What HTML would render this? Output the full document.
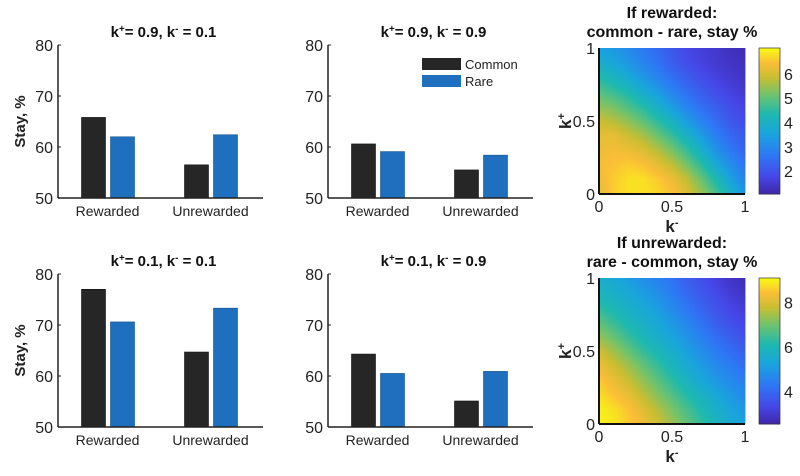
<!DOCTYPE html>
<html><head><meta charset="utf-8">
<style>
body{margin:0;background:#fff;}
svg{display:block;font-family:"Liberation Sans",sans-serif;}
</style></head>
<body>
<svg id="fig" width="800" height="476" viewBox="0 0 800 476"></svg>
<script>
const categories = ["Rewarded", "Unrewarded"];
const seriesNames = ["Common", "Rare"];
const commonTL = [65.8, 56.5];
const rareTL = [62.0, 62.4];
const commonTM = [60.6, 55.5];
const rareTM = [59.1, 58.4];
const commonBL = [77.0, 64.7];
const rareBL = [70.6, 73.3];
const commonBM = [64.3, 55.1];
const rareBM = [60.5, 60.9];
const yTicks = [50, 60, 70, 80];
const hmTicks = [0, 0.5, 1];
const cbTicksTop = [2, 3, 4, 5, 6];
const cbTicksBot = [4, 6, 8];
const cbRangeTop = [1.06, 7.06];
const cbRangeBot = [2.55, 9.1];
// rows: k+ = 0..1 (step 0.1), cols: k- = 0..1
const heatTop = [
[6.2,6.6,6.8,6.8,6.7,6.5,6.1,5.5,4.8,4.0,3.2],
[6.3,6.6,6.8,6.8,6.6,6.3,5.8,5.1,4.3,3.5,2.9],
[6.4,6.5,6.6,6.5,6.2,5.8,5.2,4.5,3.7,3.1,2.6],
[6.3,6.4,6.3,6.1,5.7,5.2,4.6,3.9,3.2,2.7,2.3],
[6.2,6.2,5.9,5.6,5.1,4.6,4.0,3.4,2.8,2.4,2.1],
[5.9,5.7,5.4,5.0,4.5,4.0,3.4,2.9,2.5,2.1,1.9],
[5.4,5.2,4.8,4.4,3.9,3.4,2.9,2.5,2.2,1.9,1.7],
[4.9,4.6,4.3,3.8,3.4,2.9,2.5,2.2,1.9,1.7,1.5],
[4.4,4.1,3.7,3.3,2.9,2.5,2.2,1.9,1.7,1.5,1.4],
[3.9,3.6,3.3,2.9,2.6,2.2,1.9,1.7,1.5,1.4,1.3],
[3.5,3.3,3.0,2.7,2.4,2.1,1.8,1.6,1.5,1.3,1.2]];
const heatBot = [
[9.0,8.9,8.6,8.3,7.9,7.4,6.9,6.4,5.9,5.5,5.2],
[9.0,8.8,8.5,8.1,7.6,7.1,6.6,6.1,5.7,5.3,5.0],
[8.8,8.5,8.2,7.7,7.2,6.7,6.2,5.8,5.4,5.0,4.7],
[8.6,8.2,7.8,7.3,6.8,6.3,5.8,5.4,5.0,4.7,4.4],
[8.3,7.9,7.4,6.9,6.4,5.9,5.5,5.1,4.7,4.4,4.1],
[7.9,7.4,6.9,6.4,6.0,5.6,5.2,4.8,4.4,4.1,3.8],
[7.3,6.9,6.4,6.0,5.6,5.3,4.9,4.5,4.1,3.8,3.5],
[6.8,6.4,6.0,5.7,5.4,5.0,4.6,4.2,3.8,3.5,3.3],
[6.3,6.0,5.7,5.4,5.1,4.7,4.3,3.9,3.6,3.3,3.1],
[5.9,5.7,5.4,5.1,4.8,4.4,4.0,3.7,3.4,3.1,2.9],
[5.6,5.4,5.1,4.8,4.5,4.2,3.8,3.5,3.2,2.9,2.7]];

const NS="http://www.w3.org/2000/svg";
const svg=document.getElementById('fig');
function el(tag,attrs,parent){const e=document.createElementNS(NS,tag);for(const k in attrs)e.setAttribute(k,attrs[k]);(parent||svg).appendChild(e);return e;}
function txt(s,attrs,parent){const t=el('text',attrs,parent);t.textContent=s;return t;}

const parula=[[0,[62,38,168]],[0.12,[70,70,230]],[0.27,[45,120,245]],[0.42,[25,165,220]],[0.55,[30,185,175]],[0.68,[110,195,110]],[0.8,[200,190,50]],[0.9,[250,190,55]],[1,[249,250,20]]];
function cmap(t){t=Math.max(0,Math.min(1,t));for(let i=1;i<parula.length;i++){if(t<=parula[i][0]){const a=parula[i-1],b=parula[i];const f=(t-a[0])/(b[0]-a[0]);const c=a[1].map((v,j)=>Math.round(v+(b[1][j]-v)*f));return `rgb(${c[0]},${c[1]},${c[2]})`;}}return 'rgb(249,250,20)';}

function supText(parent,attrs,parts){
  const t=el('text',attrs,parent);
  parts.forEach(p=>{const s=el('tspan',p[1]?{'baseline-shift':'super','font-size':'65%'}:{},t);s.textContent=p[0];});
  return t;
}

function barPanel(name,left,top,showY,common,rare,kp,km,legend){
  const g=el('g',{});
  const W=205,H=153,bottom=top+H;
  const y=v=>bottom-(v-50)/30*H;
  const gx=i=>left+49.5+i*103;
  for(let i=0;i<categories.length;i++){
    const b1=el('rect',{x:gx(i)-26,y:y(common[i]),width:24,height:bottom-y(common[i]),fill:'#262626',stroke:'#111','stroke-width':0.6},g);
    
    const b2=el('rect',{x:gx(i)+3,y:y(rare[i]),width:24,height:bottom-y(rare[i]),fill:'#1f6fbf',stroke:'#154f8a','stroke-width':0.6},g);
    
    const l=txt(categories[i],{x:gx(i),y:bottom+18,'text-anchor':'middle','font-size':14,fill:'#222'},g);
    
  }
  el('line',{x1:left,y1:top,x2:left,y2:bottom,stroke:'#222','stroke-width':1.5},g);
  el('line',{x1:left,y1:bottom,x2:left+W,y2:bottom,stroke:'#222','stroke-width':1.5},g);
  yTicks.forEach(v=>{el('line',{x1:left,y1:y(v),x2:left+3,y2:y(v),stroke:'#222'},g);
    const t=txt(v,{x:left-5,y:y(v)+6,'text-anchor':'end','font-size':16,fill:'#222'},g);});
  const tt=supText(g,{x:left+W/2+3,y:top-8,'text-anchor':'middle','font-size':15,'font-weight':'bold',fill:'#111'},[['k',0],['+',1],['= '+kp+', k',0],['-',1],[' = '+km,0]]);
  
  if(showY){const t=txt('Stay, %',{x:0,y:0,transform:`translate(${left-33},${top+H/2}) rotate(-90)`,'text-anchor':'middle','font-size':15,'font-weight':'bold',fill:'#222'},g);}
  if(legend){
    const lg=el('g',{},g);
    el('rect',{x:422,y:58,width:39,height:12,fill:'#262626'},lg);
    el('rect',{x:422,y:75,width:39,height:12,fill:'#1f6fbf'},lg);
    const a=txt(seriesNames[0],{x:465,y:69,'font-size':13,fill:'#222'},lg);
    const b=txt(seriesNames[1],{x:465,y:86,'font-size':13,fill:'#222'},lg);
  }
}
barPanel('panel-top-left',58,45,true,commonTL,rareTL,0.9,0.1,false);
barPanel('panel-top-middle',328,45,false,commonTM,rareTM,0.9,0.9,true);
barPanel('panel-bottom-left',58,274,true,commonBL,rareBL,0.1,0.1,false);
barPanel('panel-bottom-middle',328,274,false,commonBM,rareBM,0.1,0.9,false);

function sample(data,kp,km){
  const n=data.length-1;const r=kp*n,c=km*n;
  const r0=Math.min(n-1,Math.floor(r)),c0=Math.min(n-1,Math.floor(c));
  const fr=r-r0,fc=c-c0;
  return data[r0][c0]*(1-fr)*(1-fc)+data[r0][c0+1]*(1-fr)*fc+data[r0+1][c0]*fr*(1-fc)+data[r0+1][c0+1]*fr*fc;
}

function heatPanel(name,top,data,range,cbTicks,t1,t2){
  const g=el('g',{});
  const left=599,S=146;
  const xs=v=>left+v*S, ys=v=>top+S-v*S;
  const hm=el('g',{},g);
  const N=73,step=S/N;
  for(let r=0;r<N;r++)for(let c=0;c<N;c++){
    const kp=1-(r+0.5)/N,km=(c+0.5)/N;
    const v=sample(data,kp,km);
    el('rect',{x:left+c*step,y:top+r*step,width:step+0.4,height:step+0.4,fill:cmap((v-range[0])/(range[1]-range[0]))},hm);
  }
  el('line',{x1:left,y1:top,x2:left,y2:top+S,stroke:'#111','stroke-width':2},g);
  el('line',{x1:left,y1:top+S,x2:left+S,y2:top+S,stroke:'#111','stroke-width':2},g);
  hmTicks.forEach(v=>{
    const a=txt(v,{x:xs(v),y:top+S+18,'text-anchor':'middle','font-size':16,fill:'#222'},g);
    const b=txt(v,{x:left-4,y:ys(v)+6,'text-anchor':'end','font-size':16,fill:'#222'},g);
  });
  const xt=supText(g,{x:xs(0.5),y:top+S+38,'text-anchor':'middle','font-size':17,'font-weight':'bold',fill:'#222'},[['k',0],['-',1]]);
  
  const yt=supText(g,{x:0,y:0,transform:`translate(${left-28},${ys(0.5)}) rotate(-90)`,'text-anchor':'middle','font-size':17,'font-weight':'bold',fill:'#222'},[['k',0],['+',1]]);
  
  const a=txt(t1,{x:672,y:top-30,'text-anchor':'middle','font-size':16,'font-weight':'bold',fill:'#111'},g);
  const b=txt(t2,{x:672,y:top-11,'text-anchor':'middle','font-size':16,'font-weight':'bold',fill:'#111'},g);
  const cb=el('g',{},g);
  const cx=759,cwid=21;
  for(let i=0;i<S;i++){el('rect',{x:cx,y:top+i,width:cwid,height:1.5,fill:cmap(1-i/S)},cb);}
  el('rect',{x:cx,y:top,width:cwid,height:S,fill:'none',stroke:'#333','stroke-width':0.7},cb);
  cbTicks.forEach(v=>{const yy=top+S-(v-range[0])/(range[1]-range[0])*S;
    const t=txt(v,{x:cx+cwid+4,y:yy+6,'font-size':16,fill:'#222'},cb);});
}
heatPanel('heatmap-rewarded',48,heatTop,cbRangeTop,cbTicksTop,'If rewarded:','common - rare, stay %');
heatPanel('heatmap-unrewarded',278,heatBot,cbRangeBot,cbTicksBot,'If unrewarded:','rare - common, stay %');
</script>
</body></html>
